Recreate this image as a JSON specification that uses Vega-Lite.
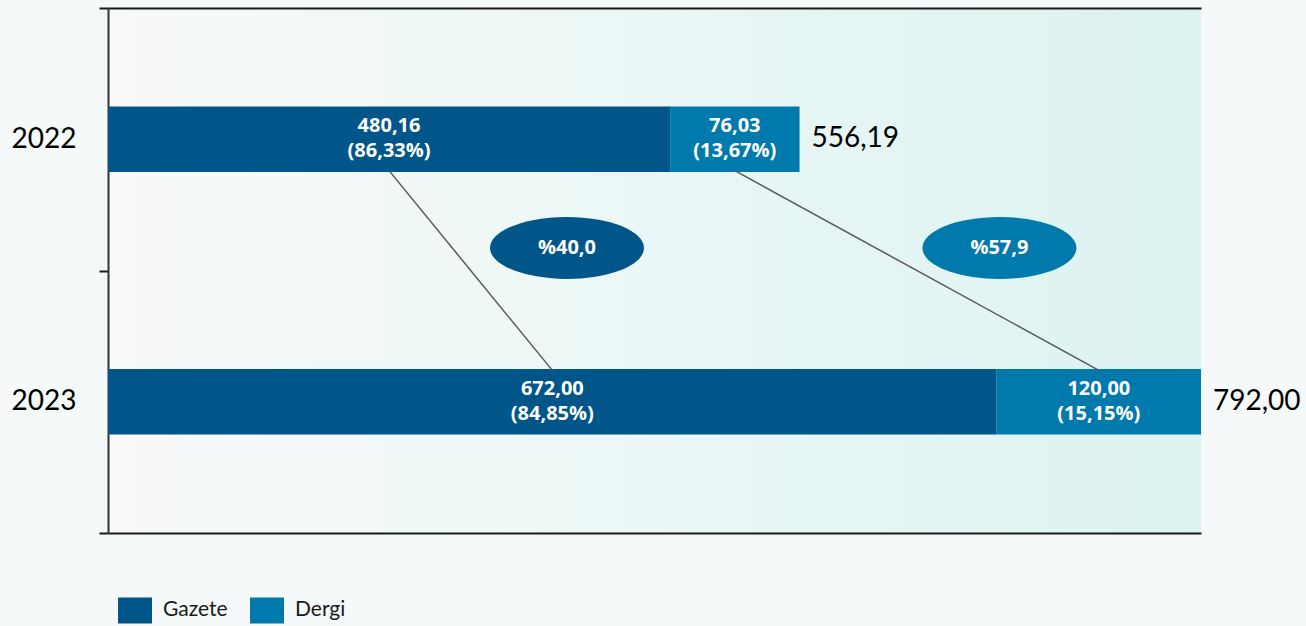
{
  "$schema": "https://vega.github.io/schema/vega-lite/v6.json",
  "width": 1093,
  "height": 525,
  "autosize": "none",
  "padding": {"left": 108, "top": 8, "right": 105, "bottom": 93},
  "background": "#f6f9f9",
  "config": {
    "font": "Lato",
    "locale": {"number": {"decimal": ",", "thousands": ".", "grouping": [3], "currency": ["", " TL"]}},
    "view": {"stroke": null, "fill": {"gradient": "linear", "x1": 0, "y1": 0, "x2": 1, "y2": 0, "stops": [{"offset": 0, "color": "#f8f9f9"}, {"offset": 0.35, "color": "#eef8f7"}, {"offset": 1, "color": "#dcf3f1"}]}}
  },
  "datasets": {
    "main": [
      {"year": "2022", "series": "Gazete", "value": 480.16, "label": ["480,16", "(86,33%)"]},
      {"year": "2022", "series": "Dergi", "value": 76.03, "label": ["76,03", "(13,67%)"]},
      {"year": "2023", "series": "Gazete", "value": 672.00, "label": ["672,00", "(84,85%)"]},
      {"year": "2023", "series": "Dergi", "value": 120.00, "label": ["120,00", "(15,15%)"]}
    ],
    "growth": [
      {"series": "Gazete", "change": "%40,0"},
      {"series": "Dergi", "change": "%57,9"}
    ]
  },
  "layer": [
    {
      "data": {"name": "main"},
      "encoding": {
        "y": {
          "field": "year", "type": "nominal",
          "scale": {"domain": ["2022", "2023"], "paddingInner": 0, "paddingOuter": 0},
          "axis": {"title": null, "tickBand": "extent", "tickSize": 9, "tickWidth": 2, "tickColor": "#1a1a1a", "domainColor": "#333333", "domainWidth": 2, "labelFontSize": 28, "labelColor": "#000000", "labelPadding": 23, "labelFont": "Lato", "grid": false}
        }
      },
      "layer": [
        {
          "mark": {"type": "bar", "height": {"band": 0.25}},
          "encoding": {
            "x": {"field": "value", "type": "quantitative", "stack": "zero",
                  "scale": {"domain": [150, 792], "clamp": true, "nice": false},
                  "axis": {"labels": false, "ticks": false, "grid": false, "title": null, "domainColor": "#1a1a1a", "domainWidth": 2}},
            "color": {"field": "series", "type": "nominal",
                      "scale": {"domain": ["Gazete", "Dergi"], "range": ["#005689", "#0079ac"]},
                      "legend": {"orient": "none", "legendX": 10, "legendY": 585, "direction": "horizontal", "title": null,
                                 "symbolType": "M-1,-0.765H1V0.765H-1Z", "symbolSize": 1156, "symbolStrokeWidth": 0,
                                 "labelFontSize": 21, "labelFont": "Lato", "labelColor": "#1a1a1a", "labelOffset": 11, "columnPadding": 22, "padding": 0}},
            "order": {"field": "series", "sort": "descending"}
          }
        },
        {
          "mark": {"type": "text", "color": "#ffffff", "font": "Open Sans", "fontWeight": "bold", "fontSize": 20, "lineHeight": 25, "baseline": "middle", "align": "center", "dy": -13},
          "encoding": {
            "x": {"field": "value", "type": "quantitative", "stack": "zero", "bandPosition": 0.5},
            "detail": {"field": "series"},
            "order": {"field": "series", "sort": "descending"},
            "text": {"field": "label"},
            "opacity": {"condition": {"test": "datum.series === 'Dergi'", "value": 1}, "value": 0}
          }
        },
        {
          "mark": {"type": "text", "color": "#000000", "fontSize": 28, "align": "left", "baseline": "middle", "dx": 12},
          "encoding": {
            "x": {"aggregate": "sum", "field": "value", "type": "quantitative"},
            "text": {"aggregate": "sum", "field": "value", "type": "quantitative", "format": ".2f"}
          }
        },
        {
          "data": {"name": "growth"},
          "transform": [{"filter": "datum.series === 'Gazete'"}],
          "encoding": {
            "x": {"datum": 419.6, "type": "quantitative"},
            "y": {"datum": "2022", "type": "nominal", "bandPosition": 0.914}
          },
          "layer": [
            {"mark": {"type": "point", "shape": "M-1,0A1,0.4026,0,1,0,1,0A1,0.4026,0,1,0,-1,0Z", "size": 23716, "filled": true, "opacity": 1, "strokeWidth": 0},
             "encoding": {"color": {"field": "series", "type": "nominal", "legend": null}}},
            {"mark": {"type": "text", "color": "#ffffff", "font": "Open Sans", "fontWeight": "bold", "fontSize": 20, "baseline": "middle", "align": "center"},
             "encoding": {"text": {"field": "change"}}}
          ]
        },
        {
          "data": {"name": "growth"},
          "transform": [{"filter": "datum.series === 'Dergi'"}],
          "encoding": {
            "x": {"datum": 673.6, "type": "quantitative"},
            "y": {"datum": "2022", "type": "nominal", "bandPosition": 0.914}
          },
          "layer": [
            {"mark": {"type": "point", "shape": "M-1,0A1,0.4026,0,1,0,1,0A1,0.4026,0,1,0,-1,0Z", "size": 23716, "filled": true, "opacity": 1, "strokeWidth": 0},
             "encoding": {"color": {"field": "series", "type": "nominal", "legend": null}}},
            {"mark": {"type": "text", "color": "#ffffff", "font": "Open Sans", "fontWeight": "bold", "fontSize": 20, "baseline": "middle", "align": "center"},
             "encoding": {"text": {"field": "change"}}}
          ]
        }
      ]
    },
    {
      "data": {"name": "main"},
      "transform": [{"filter": "datum.series === 'Gazete'"}],
      "mark": {"type": "text", "color": "#ffffff", "font": "Open Sans", "fontWeight": "bold", "fontSize": 20, "lineHeight": 25, "baseline": "middle", "align": "center", "dy": -13},
      "encoding": {
        "x": {"field": "value", "type": "quantitative", "scale": {"domain": [150, 792], "range": [0, 546.5], "nice": false, "zero": false}, "axis": null},
        "y": {"field": "year", "type": "nominal", "scale": {"domain": ["2022", "2023"], "paddingInner": 0, "paddingOuter": 0}, "axis": null},
        "text": {"field": "label"}
      }
    },
    {
      "data": {"name": "main"},
      "mark": {"type": "line", "color": "#595959", "strokeWidth": 1.5},
      "encoding": {
        "x": {"field": "value", "type": "quantitative", "stack": "zero", "bandPosition": 0.5,
              "scale": {"domain": [150, 792], "clamp": true, "nice": false},
              "axis": {"orient": "top", "labels": false, "ticks": false, "grid": false, "title": null, "domainColor": "#1a1a1a", "domainWidth": 2}},
        "y": {"field": "year", "type": "ordinal", "scale": {"type": "point", "padding": 0.814, "domain": ["2022", "2023"]}, "axis": null},
        "detail": {"field": "series"},
        "order": {"field": "series", "sort": "descending"},
        "strokeOpacity": {"condition": {"test": "datum.series === 'Dergi'", "value": 1}, "value": 0}
      }
    },
    {
      "data": {"name": "main"},
      "transform": [{"filter": "datum.series === 'Gazete'"}],
      "mark": {"type": "line", "color": "#595959", "strokeWidth": 1.5},
      "encoding": {
        "x": {"field": "value", "type": "quantitative", "scale": {"domain": [150, 792], "range": [0, 546.5], "nice": false, "zero": false}, "axis": null},
        "y": {"field": "year", "type": "ordinal", "scale": {"type": "point", "padding": 0.814, "domain": ["2022", "2023"]}, "axis": null}
      }
    }
  ],
  "resolve": {"scale": {"x": "independent", "y": "independent"}, "axis": {"x": "independent", "y": "independent"}}
}
